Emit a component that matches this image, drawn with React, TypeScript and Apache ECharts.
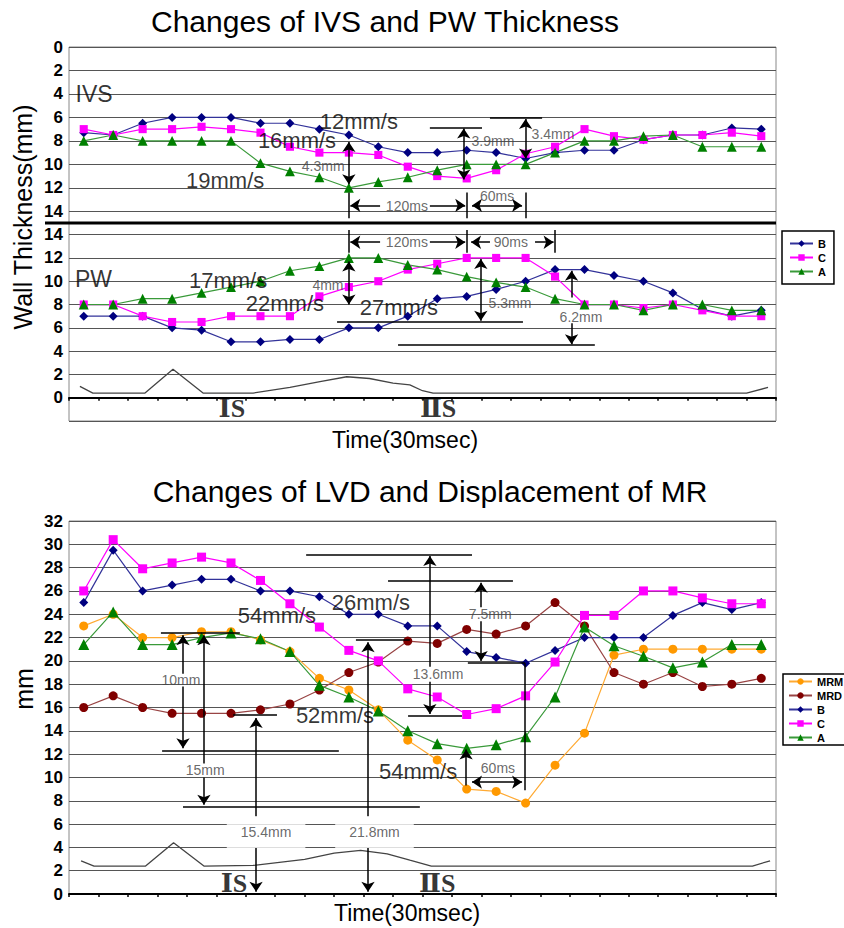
import React, { useEffect, useRef } from 'react';
import * as echarts from 'echarts';

const FONT = '"Liberation Sans", Arial, Helvetica, sans-serif';
const SERIF = '"Liberation Serif", "DejaVu Serif", "Times New Roman", serif';

// ---- categories (time, 30 ms steps) ----
const timeCategories = ['1', '2', '3', '4', '5', '6', '7', '8', '9', '10', '11', '12',
  '13', '14', '15', '16', '17', '18', '19', '20', '21', '22', '23', '24'];

// ---- Top chart: IVS thickness (axis inverted) ----
const ivsB = [7.3, 7.5, 6.5, 6.0, 6.0, 6.0, 6.5, 6.5, 7.0, 7.5, 8.5, 9.0, 9.0, 8.8, 9.0, 9.5, 9.0, 8.8, 8.8, 7.9, 7.5, 7.5, 6.9, 7.0];
const ivsC = [7.0, 7.5, 7.0, 7.0, 6.8, 7.0, 7.3, 8.5, 9.0, 9.0, 9.2, 10.2, 11.0, 11.2, 10.5, 9.1, 8.5, 7.0, 7.6, 7.9, 7.5, 7.5, 7.3, 7.6];
const ivsA = [8.0, 7.5, 8.0, 8.0, 8.0, 8.0, 9.9, 10.6, 11.1, 12.0, 11.5, 11.1, 10.5, 10.0, 10.0, 10.0, 9.0, 8.0, 8.0, 7.6, 7.5, 8.5, 8.5, 8.5];

// ---- Top chart: PW thickness ----
const pwB = [7.0, 7.0, 7.0, 6.0, 5.8, 4.8, 4.8, 5.0, 5.0, 6.0, 6.0, 7.0, 8.5, 8.7, 9.3, 10.0, 11.0, 11.0, 10.5, 10.0, 9.0, 7.6, 7.0, 7.5];
const pwC = [8.0, 8.0, 7.0, 6.5, 6.5, 7.0, 7.0, 7.0, 8.7, 9.5, 10.0, 11.0, 11.5, 12.0, 12.0, 12.0, 10.4, 8.0, 8.0, 7.7, 8.0, 7.5, 7.0, 7.0];
const pwA = [8.0, 8.0, 8.5, 8.5, 9.0, 9.5, 10.0, 10.9, 11.3, 12.0, 12.0, 11.4, 11.0, 10.4, 9.9, 9.5, 8.5, 8.0, 8.0, 7.5, 8.0, 8.0, 7.5, 7.5];

// phonocardiogram trace, [time position, level]
const pcgTop = [[0.37, 0.97], [0.81, 0.4], [2.58, 0.4], [3.53, 2.45], [4.55, 0.4], [6.25, 0.4], [7.5, 0.88], [8.52, 1.39],
  [9.43, 1.8], [10.2, 1.65], [11.0, 1.25], [11.57, 1.1], [12.0, 0.6], [12.36, 0.4], [23.0, 0.4], [23.73, 0.88]];

// ---- Bottom chart: LVD and MR displacement ----
const mrmValues = [23.0, 24.0, 22.0, 22.0, 22.5, 22.5, 21.8, 20.8, 18.5, 17.5, 15.8, 13.2, 11.5, 9.0, 8.8, 7.8, 11.05, 13.8, 20.5, 21.0, 21.0, 21.0, 21.0, 21.0];
const mrdValues = [16.0, 17.0, 16.0, 15.5, 15.5, 15.5, 15.8, 16.3, 17.5, 19.0, 19.9, 21.7, 21.5, 22.7, 22.3, 23.0, 25.0, 23.0, 19.0, 18.0, 19.0, 17.8, 18.0, 18.5];
const lvdB = [25.0, 29.5, 26.0, 26.5, 27.0, 27.0, 26.0, 26.0, 25.5, 24.0, 24.0, 23.0, 23.0, 20.8, 20.3, 19.8, 20.9, 22.0, 22.0, 22.0, 23.9, 25.0, 24.4, 25.0];
const lvdC = [26.0, 30.4, 27.9, 28.4, 28.9, 28.4, 26.9, 24.9, 22.9, 20.9, 20.0, 17.6, 16.9, 15.4, 15.9, 17.0, 19.9, 23.9, 23.9, 26.0, 26.0, 25.4, 24.9, 24.9];
const lvdA = [21.4, 24.2, 21.4, 21.4, 22.0, 22.4, 21.9, 20.8, 17.9, 16.9, 15.7, 14.0, 12.9, 12.5, 12.8, 13.5, 16.9, 22.9, 21.3, 20.4, 19.4, 19.9, 21.4, 21.4];

const pcgBottom = [[0.41, 2.85], [0.85, 2.4], [2.6, 2.4], [3.55, 4.4], [4.58, 2.4], [6.25, 2.45], [8.0, 2.97], [9.0, 3.5],
  [9.9, 3.75], [10.8, 3.45], [11.57, 2.9], [12.3, 2.4], [23.2, 2.4], [23.8, 2.85]];

// ---- annotations: [text, time position, value, kind] ----
const ivsNotes = [
  ['IVS', 0.85, 3.97, 'section'],
  ['12mm/s', 9.84, 6.36, 'speed'],
  ['16mm/s', 7.74, 7.98, 'speed'],
  ['19mm/s', 5.3, 11.39, 'speed'],
  ['4.3mm', 8.63, 10.15, 'measure'],
  ['3.9mm', 14.39, 7.98, 'measure'],
  ['3.4mm', 16.43, 7.38, 'measure'],
  ['120ms', 11.47, 13.57, 'measure'],
  ['60ms', 14.53, 12.71, 'measure'],
];
const pwNotes = [
  ['PW', 0.83, 10.2, 'section'],
  ['17mm/s', 5.4, 10.03, 'speed'],
  ['22mm/s', 7.33, 8.1, 'speed'],
  ['27mm/s', 11.2, 7.72, 'speed'],
  ['4mm', 8.79, 9.64, 'measure'],
  ['5.3mm', 14.97, 8.1, 'measure'],
  ['6.2mm', 17.38, 6.9, 'measure'],
  ['120ms', 11.47, 13.35, 'measure'],
  ['90ms', 15.0, 13.35, 'measure'],
  ['ⅠS', 5.53, -0.94, 'sound'],
  ['ⅡS', 12.53, -0.94, 'sound'],
];
const lvdNotes = [
  ['26mm/s', 10.25, 24.98, 'speed'],
  ['54mm/s', 7.06, 23.86, 'speed'],
  ['52mm/s', 9.03, 15.3, 'speed'],
  ['54mm/s', 11.85, 10.5, 'speed'],
  ['10mm', 3.8, 18.34, 'measure'],
  ['15mm', 4.62, 10.63, 'measure'],
  ['13.6mm', 12.53, 18.85, 'measure'],
  ['7.5mm', 14.3, 23.99, 'measure'],
  ['60ms', 14.56, 10.8, 'measure'],
  ['15.4mm', 6.69, 5.31, 'boxed'],
  ['21.8mm', 10.37, 5.31, 'boxed'],
  ['ⅠS', 5.6, 0.86, 'sound'],
  ['ⅡS', 12.5, 0.86, 'sound'],
];

// ---- annotation strokes: [t1, v1, t2, v2, arrowheads (0 none, 1 end, 2 both)] ----
const ivsMarks = [
  [9.5, 12.4, 9.5, 14.6, 0], [13.5, 12.4, 13.5, 14.6, 0], [15.5, 12.4, 15.5, 14.6, 0],
  [12.25, 6.85, 14.02, 6.85, 0], [14.29, 6.06, 16.06, 6.06, 0],
  [10.56, 13.5, 9.55, 13.5, 1], [12.25, 13.5, 13.45, 13.5, 1],
  [9.5, 8.1, 9.5, 11.7, 2], [13.4, 6.94, 13.4, 11.29, 2], [15.5, 6.14, 15.5, 9.5, 2],
  [13.68, 13.5, 15.38, 13.5, 2],
];
const pwMarks = [
  [9.5, 12.45, 9.5, 14.4, 0], [13.5, 12.45, 13.5, 14.4, 0], [16.5, 12.45, 16.5, 14.4, 0],
  [9.1, 6.5, 15.41, 6.5, 0], [11.17, 4.52, 17.85, 4.52, 0],
  [10.56, 13.35, 9.55, 13.35, 1], [12.25, 13.35, 13.45, 13.35, 1],
  [14.29, 13.35, 13.65, 13.35, 1], [15.82, 13.35, 16.45, 13.35, 1],
  [17.06, 8.6, 17.06, 10.9, 1], [17.06, 6.4, 17.06, 4.6, 1],
  [9.5, 8.0, 9.5, 11.7, 2], [13.98, 6.6, 13.98, 11.9, 2],
];
const lvdMarks = [
  [3.12, 22.4, 5.8, 22.4, 0], [3.16, 12.3, 9.16, 12.3, 0], [3.87, 7.5, 11.91, 7.5, 0],
  [5.57, 15.35, 7.06, 15.35, 0], [9.74, 21.77, 11.57, 21.77, 0],
  [8.05, 29.1, 13.68, 29.1, 0], [11.51, 15.3, 13.34, 15.3, 0],
  [10.83, 26.9, 15.07, 26.9, 0], [13.54, 19.8, 15.48, 19.8, 0], [15.48, 19.8, 15.48, 8.9, 0],
  [3.87, 18.9, 3.87, 22.2, 1], [3.87, 17.8, 3.87, 12.5, 1],
  [4.58, 11.2, 4.58, 22.2, 1], [4.58, 10.0, 4.58, 7.65, 1],
  [6.35, 6.6, 6.35, 15.1, 1], [6.35, 3.95, 6.35, 0.2, 1],
  [10.15, 6.6, 10.15, 21.6, 1], [10.15, 3.95, 10.15, 0.2, 1],
  [12.25, 19.5, 12.25, 29.0, 1], [12.25, 18.2, 12.25, 15.45, 1],
  [13.99, 24.6, 13.99, 26.7, 1], [13.99, 23.4, 13.99, 20.0, 1],
  [13.48, 9.3, 13.48, 12.4, 1],
  [13.68, 9.6, 15.38, 9.6, 2],
];

const SERIES_STYLE: Record<string, any> = {
  B: { symbol: 'diamond', color: '#000080', line: '#33339a', scale: 1 },
  C: { symbol: 'rect', color: '#ff00ff', line: '#ff00ff', scale: 0.9 },
  A: { symbol: 'triangle', color: '#008000', line: '#3a9a3a', scale: 1.1 },
  MRM: { symbol: 'circle', color: '#ff9900', line: '#ffaa33', scale: 1 },
  MRD: { symbol: 'circle', color: '#800000', line: '#994444', scale: 1 },
};

const NOTE_STYLE: Record<string, any> = {
  speed: { fontSize: 22, color: '#000' },
  measure: { fontSize: 14, color: '#444' },
  boxed: { fontSize: 14, color: '#444', backgroundColor: '#fff', padding: [9, 14] },
  section: { fontSize: 23, color: '#000' },
  sound: { fontSize: 26, color: '#000', fontWeight: 'bold', fontFamily: SERIF },
};

function lineSeries(name: string, data: number[], xi: number, yi: number, size: number) {
  const s = SERIES_STYLE[name];
  return {
    type: 'line', name, data, xAxisIndex: xi, yAxisIndex: yi, silent: true,
    symbol: s.symbol, symbolSize: size * s.scale, showAllSymbol: true,
    itemStyle: { color: s.color }, lineStyle: { color: s.line, width: 1.2 }, z: 3,
  };
}

function traceSeries(data: number[][], xi: number, yi: number) {
  return {
    type: 'line', data, xAxisIndex: xi, yAxisIndex: yi, silent: true, symbol: 'none',
    lineStyle: { color: '#444', width: 1.3 }, z: 2,
  };
}

function noteSeries(notes: any[], marks: number[][], xi: number, yi: number) {
  return {
    type: 'scatter', xAxisIndex: xi, yAxisIndex: yi, silent: true, z: 6,
    symbol: 'circle', symbolSize: 1, itemStyle: { color: 'rgba(0,0,0,0)' },
    label: { show: true, position: 'inside', formatter: '{b}', fontFamily: FONT },
    data: notes.map((n) => ({ name: n[0], value: [n[1], n[2]], label: NOTE_STYLE[n[3]] })),
    markLine: {
      silent: true, animation: false, symbol: ['none', 'none'], symbolSize: 10,
      label: { show: false }, emphasis: { disabled: true },
      lineStyle: { color: '#000', width: 1.5, type: 'solid' },
      data: marks.map((m) => [
        { coord: [m[0], m[1]], symbol: m[4] === 2 ? 'arrow' : 'none' },
        { coord: [m[2], m[3]], symbol: m[4] >= 1 ? 'arrow' : 'none' },
      ]),
    },
  };
}

const yLabel = { fontSize: 17, fontWeight: 'bold', color: '#000', margin: 6, fontFamily: FONT };
const split = { lineStyle: { color: '#555', width: 1.2 } };
const catAxisVisible = {
  axisLine: { lineStyle: { color: '#000', width: 2 } },
  axisTick: { show: true, length: 3, lineStyle: { color: '#000', width: 1.5 } },
  axisLabel: { show: false }, splitLine: { show: false },
};
const legendBase = {
  orient: 'vertical', itemWidth: 23, itemHeight: 8, itemGap: 3, selectedMode: false,
  borderColor: '#000', borderWidth: 1.5, backgroundColor: '#fff',
  textStyle: { fontSize: 11, fontWeight: 'bold', color: '#000', lineHeight: 11, fontFamily: FONT },
};

function textEl(text: string, x: number, y: number, fontSize: number, rotation = 0) {
  return {
    type: 'text', x, y, rotation, z: 50,
    style: {
      text, fontSize, fontFamily: FONT, fill: '#000',
      align: 'center', verticalAlign: 'middle', textAlign: 'center', textVerticalAlign: 'middle',
    },
  };
}

const option: any = {
  animation: false,
  backgroundColor: '#fff',
  textStyle: { fontFamily: FONT },
  grid: [
    { left: 69, top: 47, width: 707, height: 176, show: true, borderColor: '#888', borderWidth: 1 },
    { left: 69, top: 223, width: 707, height: 198, show: true, borderColor: '#888', borderWidth: 1 },
    { left: 69, top: 521, width: 707, height: 373, show: true, borderColor: '#888', borderWidth: 1 },
  ],
  xAxis: [
    { type: 'category', gridIndex: 0, data: timeCategories, show: false },
    { type: 'category', gridIndex: 1, data: timeCategories, ...catAxisVisible },
    { type: 'value', gridIndex: 0, min: 0, max: 24, show: false },
    { type: 'value', gridIndex: 1, min: 0, max: 24, show: false },
    { type: 'category', gridIndex: 2, data: timeCategories, ...catAxisVisible },
    { type: 'value', gridIndex: 2, min: 0, max: 24, show: false },
  ],
  yAxis: [
    {
      type: 'value', gridIndex: 0, inverse: true, min: 0, max: 15, interval: 2,
      axisLine: { show: false }, axisTick: { show: false }, splitLine: split,
      axisLabel: { ...yLabel, formatter: (v: number) => (v <= 14 ? String(v) : '') },
    },
    {
      type: 'value', gridIndex: 1, min: -2, max: 15, interval: 2,
      axisLine: { show: false }, axisTick: { show: false }, splitLine: split,
      axisLabel: { ...yLabel, formatter: (v: number) => (v >= 0 && v <= 14 ? String(v) : '') },
    },
    {
      type: 'value', gridIndex: 2, min: 0, max: 32, interval: 2,
      axisLine: { show: false }, axisTick: { show: false }, splitLine: split,
      axisLabel: { ...yLabel },
    },
  ],
  legend: [
    { ...legendBase, data: ['B', 'C', 'A'], left: 782, top: 231, padding: [7, 8, 7, 7] },
    { ...legendBase, data: ['MRM', 'MRD', 'B', 'C', 'A'], left: 783, top: 674, padding: [2, 8, 2, 5] },
  ],
  series: [
    lineSeries('B', ivsB, 0, 0, 9),
    lineSeries('C', ivsC, 0, 0, 9),
    lineSeries('A', ivsA, 0, 0, 9),
    lineSeries('B', pwB, 1, 1, 9),
    lineSeries('C', pwC, 1, 1, 9),
    lineSeries('A', pwA, 1, 1, 9),
    traceSeries(pcgTop, 3, 1),
    noteSeries(ivsNotes, ivsMarks, 2, 0),
    noteSeries(pwNotes, pwMarks, 3, 1),
    lineSeries('MRM', mrmValues, 4, 2, 9),
    lineSeries('MRD', mrdValues, 4, 2, 9),
    lineSeries('B', lvdB, 4, 2, 9),
    lineSeries('C', lvdC, 4, 2, 10),
    lineSeries('A', lvdA, 4, 2, 10),
    traceSeries(pcgBottom, 5, 2),
    noteSeries(lvdNotes, lvdMarks, 5, 2),
  ],
  graphic: [
    { type: 'line', z: 40, shape: { x1: 45, y1: 223, x2: 776, y2: 223 }, style: { stroke: '#000', lineWidth: 3 } },
    textEl('Changes of IVS and PW Thickness', 385, 21, 30),
    textEl('Changes of LVD and Displacement of MR', 430, 491, 30),
    textEl('Wall Thickness(mm)', 23, 217, 25, Math.PI / 2),
    textEl('mm', 24, 689, 25, Math.PI / 2),
    textEl('Time(30msec)', 405, 440, 23),
    textEl('Time(30msec)', 407, 913, 23),
  ],
};

export default function App() {
  const ref = useRef<HTMLDivElement>(null);
  useEffect(() => {
    const chart = echarts.init(ref.current as HTMLDivElement, null, { renderer: 'svg' });
    chart.setOption(option);
    return () => chart.dispose();
  }, []);
  return (
    <div
      ref={ref}
      style={{ position: 'fixed', left: 0, top: 0, width: 844, height: 928, background: '#fff' }}
    />
  );
}
